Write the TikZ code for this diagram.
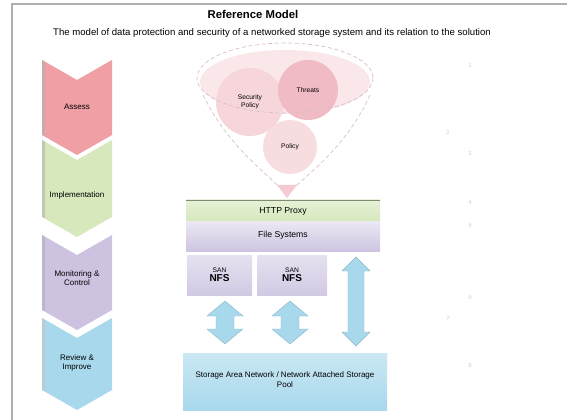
\documentclass[tikz,border=0pt]{standalone}
\usepackage{fontspec}
\setmainfont{Liberation Sans}
\usetikzlibrary{shapes.geometric}
\definecolor{cred}{RGB}{240,160,165}
\definecolor{cgreen}{RGB}{214,232,188}
\definecolor{cpurple}{RGB}{205,195,225}
\definecolor{cblue}{RGB}{168,216,236}
\definecolor{cpink}{RGB}{246,214,218}
\definecolor{cpinkd}{RGB}{240,180,190}
\definecolor{frame}{RGB}{175,175,175}
\tikzset{
  lbl/.style={font=\fontsize{5}{6}\selectfont, align=center, text=black},
  chl/.style={font=\fontsize{6}{7}\selectfont, align=center, text=black},
  faint/.style={font=\fontsize{4.5}{5}\selectfont, text=black!18},
  arr/.style={fill=cblue, draw=cblue!85!black, line width=0.3pt},
}
\newcommand{\chev}[4]{% top, bottom, edge colour, fill colour
  \fill[#4] (42,#1) -- (77,#1+20) -- (112,#1) -- (112,#2-20) -- (77,#2) -- (42,#2-20) -- cycle;
  \fill[#3] (42,#1) -- (45,#1+2) -- (45,#2-19) -- (42,#2-20) -- cycle;}
% double vertical arrow: x, ytop, ybot, shaft half width, head half width, head height
\newcommand{\dblarrow}[6]{%
  \filldraw[arr] (#1,#2) -- (#1+#5,#2+#6) -- (#1+#4,#2+#6) -- (#1+#4,#3-#6) -- (#1+#5,#3-#6)
    -- (#1,#3) -- (#1-#5,#3-#6) -- (#1-#4,#3-#6) -- (#1-#4,#2+#6) -- (#1-#5,#2+#6) -- cycle;}
\begin{document}
\begin{tikzpicture}[x=0.75pt,y=-0.75pt]
\useasboundingbox (0,0) rectangle (567,420);
\fill[white] (0,0) rectangle (567,420);
% frame
\draw[frame, line width=1.5pt] (12,420) -- (12,4.5) -- (567,4.5);
% title
\node[font=\fontsize{8.5}{10}\selectfont\bfseries] (title) at (253,14) {Reference Model};
\node[font=\fontsize{7.2}{8.5}\selectfont] (sub) at (272,33) {The model of data protection and security of a networked storage system and its relation to the solution};
% chevrons
\chev{60}{155}{cred!70!black!60}{cred}
\chev{140}{237}{cgreen!70!black!60}{cgreen}
\chev{235}{330}{cpurple!70!black!60}{cpurple}
\chev{318}{410}{cblue!70!black!50}{cblue}
\node[chl] (c1) at (77,107) {Assess};
\node[chl] (c2) at (77,195) {Implementation};
\node[chl] (c3) at (77,278) {Monitoring \&\\Control};
\node[chl] (c4) at (77,363) {Review \&\\Improve};
% funnel
\fill[cpink!60] (285,82) ellipse (85 and 32);
\fill[cpink] (250,102) circle (34);
\fill[cpinkd!90] (308,90) circle (30);
\fill[cpink!85] (290,147) circle (27);
\draw[cpinkd!80!black!60, densely dashed, line width=0.5pt] (285,78) ellipse (88 and 35);
\draw[cpinkd!80!black!60, densely dashed, line width=0.5pt] (203,95) .. controls (230,150) and (270,175) .. (287,195);
\draw[cpinkd!80!black!60, densely dashed, line width=0.5pt] (370,95) .. controls (345,150) and (305,175) .. (287,195);
\fill[cpinkd!70] (277,185) -- (297,185) -- (287,198) -- cycle;
\node[lbl] (e1) at (250,102) {Security\\Policy};
\node[lbl] (e2) at (308,90) {Threats};
\node[lbl] (e3) at (290,147) {Policy};
% stack
\shade[top color=cgreen!60, bottom color=cgreen] (186,200) rectangle (380,222);
\draw[cgreen!60!black, line width=0.8pt] (186,200.5) -- (380,200.5);
\node[lbl, font=\fontsize{6.5}{7.5}\selectfont] (b1) at (283,211) {HTTP Proxy};
\shade[top color=cpurple!40, bottom color=cpurple] (186,222) rectangle (380,252);
\node[lbl, font=\fontsize{6.5}{7.5}\selectfont] (b2) at (283,235) {File Systems};
\shade[top color=cpurple!50, bottom color=cpurple!90] (187,255) rectangle (252,295);
\shade[top color=cpurple!50, bottom color=cpurple!90] (257,255) rectangle (327,295);
\node[lbl] (n1) at (219.5,275) {SAN\\[1pt]{\fontsize{7.5}{8.5}\selectfont\bfseries NFS}};
\node[lbl] (n2) at (292,275) {SAN\\[1pt]{\fontsize{7.5}{8.5}\selectfont\bfseries NFS}};
% bottom box
\shade[top color=cblue!60, bottom color=cblue] (183,353) rectangle (387,410);
\node[lbl, font=\fontsize{6}{7.5}\selectfont] (bot) at (285,380) {Storage Area Network / Network Attached Storage\\Pool};
% arrows
\dblarrow{225}{301}{344}{9}{18}{15}
\dblarrow{290}{301}{344}{9}{18}{15}
\dblarrow{356}{257}{346}{8}{14}{14}
% faint side labels
\node[faint] (f1) at (470,65) {1};
\node[faint] (f2) at (448,132) {2};
\node[faint] (f3) at (470,153) {3};
\node[faint] (f4) at (470,202) {4};
\node[faint] (f5) at (470,225) {5};
\node[faint] (f6) at (470,297) {6};
\node[faint] (f7) at (448,318) {7};
\node[faint] (f8) at (470,365) {8};
\end{tikzpicture}
\end{document}
